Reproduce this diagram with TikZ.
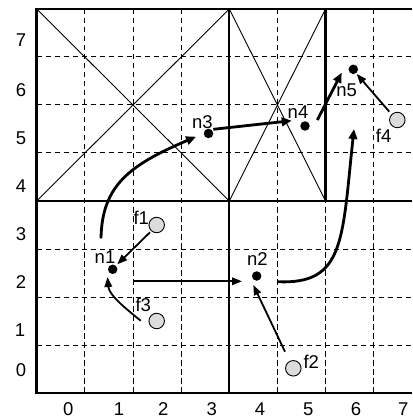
\documentclass[tikz,border=0pt]{standalone}
\usepackage{fontspec}
\setmainfont{Liberation Sans}
\usetikzlibrary{arrows.meta,calc}
\definecolor{fgray}{RGB}{220,220,220}
\begin{document}
\begin{tikzpicture}[x=1pt,y=-1pt,
  gridline/.style={line width=1pt,dash pattern=on 5.5pt off 3.5pt},
  thickline/.style={line width=2.3pt},
  border/.style={line width=2.9pt,line join=miter},
  diag/.style={line width=0.9pt},
  lbl/.style={font=\fontsize{18.5}{21}\selectfont,inner sep=0pt},
  dot/.style={circle,fill=black,minimum size=9.5pt,inner sep=0pt},
  fnode/.style={circle,draw=black,line width=0.9pt,fill=fgray,minimum size=15.5pt,inner sep=0pt},
  thinarrow/.style={line width=1.8pt,-{Triangle[length=10pt,width=7.5pt]}},
  thickarrow/.style={line width=2.8pt,-{Triangle[length=10pt,width=8.5pt]}},
]
\useasboundingbox (0,0) rectangle (412,419);
% dashed grid
\foreach \k in {1,2,3,5,6,7}{
  \draw[gridline] ({36.7+48.15*\k},9) -- ({36.7+48.15*\k},393);
  \draw[gridline] (36.7,{9+48*\k}) -- (412,{9+48*\k});
}
% diagonals
\draw[diag] (36.7,9) -- (229.3,201) (36.7,201) -- (229.3,9);
\draw[diag] (229.3,9) -- (325.6,201) (229.3,201) -- (325.6,9);
% thick lines
\draw[thickline] (36.7,201) -- (412,201);
\draw[thickline] (229.3,9) -- (229.3,393);
\draw[thickline] (325.6,9) -- (325.6,201);
\draw[border] (412,9) -- (36.7,9) -- (36.7,393) -- (412,393);
% axis labels
\node[lbl] (y7) at (21,40) {7};
\node[lbl] (y6) at (21,90.3) {6};
\node[lbl] (y5) at (21,138) {5};
\node[lbl] (y4) at (21,186) {4};
\node[lbl] (y3) at (21,233.7) {3};
\node[lbl] (y2) at (21,282) {2};
\node[lbl] (y1) at (20,330) {1};
\node[lbl] (y0) at (21,369.7) {0};
\node[lbl] (x0) at (68.3,409) {0};
\node[lbl] (x1) at (119,409) {1};
\node[lbl] (x2) at (163.3,409) {2};
\node[lbl] (x3) at (211.7,409) {3};
\node[lbl] (x4) at (260,409) {4};
\node[lbl] (x5) at (308.3,409) {5};
\node[lbl] (x6) at (356,409) {6};
\node[lbl] (x7) at (403.3,409) {7};
% nodes
\node[dot] (n1) at (112.7,269.3) {};
\node[dot] (n2) at (256.7,276) {};
\node[dot] (n3) at (208.5,133.5) {};
\node[dot] (n4) at (305,126) {};
\node[dot] (n5) at (353.3,69.3) {};
\node[fnode] (f1) at (156.7,225) {};
\node[fnode] (f2) at (293.3,368.3) {};
\node[fnode] (f3) at (156.7,321) {};
\node[fnode] (f4) at (397.3,120) {};
\node[lbl] (ln1) at (105,256.7) {n1};
\node[lbl] (ln2) at (257.3,258.7) {n2};
\node[lbl] (ln3) at (202.3,122.3) {n3};
\node[lbl] (ln4) at (298,112.3) {n4};
\node[lbl] (ln5) at (346.7,90) {n5};
\node[lbl] (lf1) at (141.3,218.3) {f1};
\node[lbl] (lf2) at (311.3,361.7) {f2};
\node[lbl] (lf3) at (143.3,305) {f3};
\node[lbl] (lf4) at (383.7,135.7) {f4};
\coordinate (e9) at (354,129);
% thin arrows
\draw[thinarrow] ($(f1)+(-6.7,7.3)$) -- ($(n1)+(4.6,-5)$);
\draw[thinarrow] ($(f3)+(-16,-0.3)$) .. controls (125,308) and (109,295) .. ($(n1)+(-5.2,7.7)$);
\draw[thinarrow] ($(f2)+(-8.3,-16.6)$) -- ($(n2)+(-3.4,9)$);
\draw[thinarrow] ($(f4)+(-8,-8.3)$) -- ($(n5)+(3.4,4.7)$);
\draw[thinarrow] ($(n1)+(20,12)$) -- ($(n2)+(-14.7,5.3)$);
% thick arrows
\draw[thickarrow] ($(n1)+(-11.7,-31)$) .. controls (102,185) and (130,165) .. ($(n3)+(-12.5,3.2)$);
\draw[thickarrow] ($(n3)+(4.8,-4.2)$) -- ($(n4)+(-13.3,-5.3)$);
\draw[thickarrow] ($(n4)+(12.3,-6)$) -- ($(n5)+(-11.6,3.4)$);
\draw[thickarrow] ($(n2)+(20.6,5.7)$) .. controls (345,285) and (342,240) .. (e9);
\end{tikzpicture}
\end{document}
